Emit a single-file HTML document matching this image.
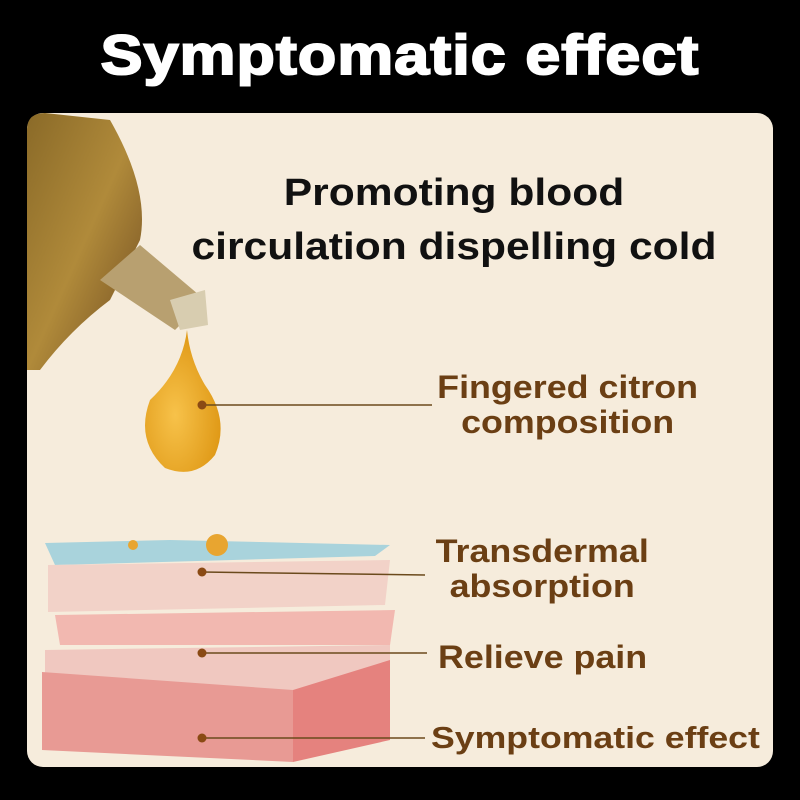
<!DOCTYPE html>
<html><head><style>
body{margin:0;background:#000;}
.w{position:relative;width:800px;height:800px;background:#000;overflow:hidden;font-family:"Liberation Sans",sans-serif;font-weight:bold;}
.t{position:absolute;left:0;width:800px;top:22px;text-align:center;font-size:56px;color:#fff;letter-spacing:1px;-webkit-text-stroke:2px #fff;transform:scaleX(1.12);transform-origin:400px 0;}
.card{position:absolute;left:27px;top:113px;width:746px;height:654px;border-radius:16px;background:#f6ecdc;}
.h{position:absolute;left:154px;width:600px;text-align:center;font-size:38px;color:#111;line-height:54px;top:166px;transform:scaleX(1.12);transform-origin:300px 0;}
.l{position:absolute;color:#6b3f14;font-size:32px;line-height:35px;text-align:center;transform:scaleX(1.12);transform-origin:0 0;white-space:nowrap;}
</style></head><body><div class="w">
<div class="t">Symptomatic effect</div>
<div class="card"></div>
<svg style="position:absolute;left:0;top:0" width="800" height="800">
<defs>
<linearGradient id="b" x1="0" y1="0" x2="1" y2="1"><stop offset="0" stop-color="#8a6a28"/><stop offset="0.5" stop-color="#b08a3a"/><stop offset="1" stop-color="#6e4a20"/></linearGradient>
<radialGradient id="d" cx="0.4" cy="0.6" r="0.6"><stop offset="0" stop-color="#f7c24a"/><stop offset="1" stop-color="#e09a18"/></radialGradient>
</defs>
<path d="M27 130 Q27 113 45 113 L110 120 Q150 190 140 240 L110 300 Q70 330 40 370 L27 370Z" fill="url(#b)"/>
<path d="M100 280 L140 245 L205 300 L175 330 Z" fill="#b8a070"/>
<path d="M170 300 L205 290 L208 325 L180 330Z" fill="#d8cdb0"/>
<path d="M187 330 Q182 370 150 400 Q135 440 165 468 Q195 480 215 455 Q230 420 205 385 Q190 360 187 330Z" fill="url(#d)"/>
<path d="M45 543 L170 540 L390 545 L375 556 L55 565Z" fill="#a9d3dc"/>
<path d="M48 565 L390 560 L385 605 L48 612Z" fill="#f2d2c8"/>
<path d="M55 615 L395 610 L390 645 L60 645Z" fill="#f2b8b0"/>
<path d="M45 650 L390 645 L390 690 L45 690Z" fill="#f0c8c0"/>
<path d="M42 672 L293 690 L293 762 L42 750Z" fill="#e89a94"/>
<path d="M293 690 L390 660 L390 740 L293 762Z" fill="#e5827e"/>
<circle cx="217" cy="545" r="11" fill="#e8a530"/><circle cx="133" cy="545" r="5" fill="#e8a530"/>
<g stroke="#6b4a1c" stroke-width="1.5"><line x1="202" y1="405" x2="432" y2="405"/><line x1="202" y1="572" x2="425" y2="575"/><line x1="202" y1="653" x2="427" y2="653"/><line x1="202" y1="738" x2="425" y2="738"/></g>
<g fill="#8a4a14"><circle cx="202" cy="405" r="4.5"/><circle cx="202" cy="572" r="4.5"/><circle cx="202" cy="653" r="4.5"/><circle cx="202" cy="738" r="4.5"/></g>
</svg>
<div class="h">Promoting blood<br>circulation dispelling cold</div>
<div class="l" style="left:436px;width:235px;top:370px">Fingered citron<br>composition</div>
<div class="l" style="left:433px;width:195px;top:534px">Transdermal<br>absorption</div>
<div class="l" style="left:438px;top:640px">Relieve pain</div>
<div class="l" style="left:431px;top:720px;font-size:31px;transform:scaleX(1.15)">Symptomatic effect</div>
</div></body></html>
